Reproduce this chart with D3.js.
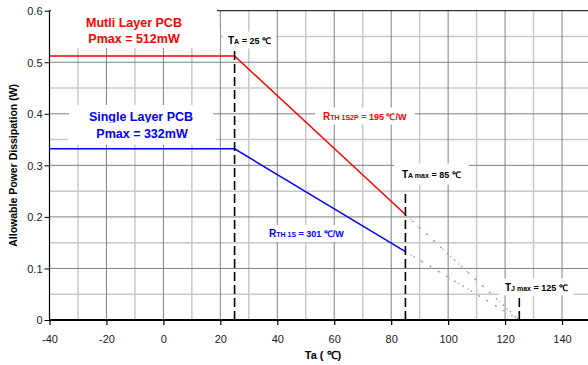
<!DOCTYPE html>
<html>
<head>
<meta charset="utf-8">
<script src="https://cdn.jsdelivr.net/npm/d3@7"></script>
<style>
  body { margin: 0; background: #fff; }
  svg { display: block; font-family: "Liberation Sans", Arial, sans-serif; }
  .tick text { font-size: 11px; fill: #222; }
</style>
</head>
<body>
<div class="chart"></div>
<script>
// Data
var tempSolid = [-40, 25, 85];
var multiPower = [0.512, 0.512, 0.2048];
var singlePower = [0.332, 0.332, 0.1328];
var tempExt = [85, 125];
var multiExt = [0.2048, 0];
var singleExt = [0.1328, 0];
var markerTemp = [25, 85, 125];
var markerTop = [0.523, 0.248, 0.046];
var xTicks = [-40, -20, 0, 20, 40, 60, 80, 100, 120, 140];
var yTicks = [0, 0.1, 0.2, 0.3, 0.4, 0.5, 0.6];

var svgWidth = 588;
var svgHeight = 365;

var svg = d3.select(".chart")
    .append("svg")
    .attr("width", svgWidth)
    .attr("height", svgHeight);

// scales (plot runs to 150 on the right, just past the picture edge)
var x = d3.scaleLinear().domain([-40, 150]).range([49.5, 590.5]);
var y = d3.scaleLinear().domain([0, 0.6]).range([320, 10.7]);

// grid
var grid = svg.append("g");
d3.range(-30, 150, 20).forEach(function(v) {
    grid.append("line").attr("x1", x(v)).attr("x2", x(v)).attr("y1", y(0)).attr("y2", y(0.6))
        .attr("stroke", "#c8c8c8").attr("stroke-width", 1.5);
});
d3.range(0.05, 0.6, 0.1).forEach(function(v) {
    grid.append("line").attr("x1", x(-40)).attr("x2", x(150)).attr("y1", y(v)).attr("y2", y(v))
        .attr("stroke", "#c8c8c8").attr("stroke-width", 1.5);
});
xTicks.slice(1).forEach(function(v) {
    grid.append("line").attr("x1", x(v)).attr("x2", x(v)).attr("y1", y(0)).attr("y2", y(0.6))
        .attr("stroke", "#808080").attr("stroke-width", 1);
});
yTicks.slice(1, -1).forEach(function(v) {
    grid.append("line").attr("x1", x(-40)).attr("x2", x(150)).attr("y1", y(v)).attr("y2", y(v))
        .attr("stroke", "#808080").attr("stroke-width", 1);
});

// top border
svg.append("line").attr("x1", x(-40)).attr("x2", x(150)).attr("y1", y(0.6)).attr("y2", y(0.6))
    .attr("stroke", "#000").attr("stroke-width", 1);

// labels with white boxes (drawn before curves, they knock out the grid)
var labels = svg.append("g");

function boxLabel(px, py, parts, color, anchor, pad) {
    var g = labels.append("g");
    var t = g.append("text")
        .attr("x", px).attr("y", py)
        .attr("text-anchor", anchor || "start")
        .attr("fill", color)
        .attr("font-weight", "bold");
    parts.forEach(function(p) {
        t.append("tspan").attr("font-size", p[1]).text(p[0]);
    });
    var bb = t.node().getBBox();
    pad = pad || [4, 2];
    g.insert("rect", "text")
        .attr("x", bb.x - pad[0]).attr("y", bb.y - pad[1])
        .attr("width", bb.width + 2 * pad[0]).attr("height", bb.height + 2 * pad[1])
        .attr("fill", "#fff");
    return g;
}

boxLabel(134, 27, [["Mutli  Layer  PCB", "12.5px"]], "#ff0000", "middle", [35, 6]);
boxLabel(134, 43, [["Pmax = 512mW", "12.5px"]], "#ff0000", "middle", [40, 2]);
boxLabel(141, 121, [["Single  Layer  PCB", "12.5px"]], "#0000ff", "middle", [20, 5]);
boxLabel(142, 137.5, [["Pmax = 332mW", "12.5px"]], "#0000ff", "middle", [28, 4]);

boxLabel(228, 43.5, [["T", "10px"], ["A", "7px"], [" = 25 ℃", "9px"]], "#000", "start", [5, 3]);
boxLabel(323, 119.5, [["R", "10px"], ["TH  1S2P", "7px"], ["  = 195 ℃/W", "9px"]], "#ff0000", "start", [8, 3]);
boxLabel(269, 237, [["R", "10px"], ["TH  1S", "7px"], [" = 301 ℃/W", "9px"]], "#0000ff", "start", [4, 3]);
boxLabel(402, 177.5, [["T", "10px"], ["A max", "7px"], ["  = 85 ℃", "9px"]], "#000", "start", [8, 5]);
boxLabel(505, 290.5, [["T", "10px"], ["J max", "7px"], [" = 125 ℃", "9px"]], "#000", "start", [6, 3]);

// extension of the curves past TA max (faint dotted)
var pts = function(xs, ys) { return xs.map(function(v, i) { return [x(v), y(ys[i])]; }); };
var line = d3.line();

[[multiExt, "#ffb8b8"], [singleExt, "#c0c0ff"]].forEach(function(s) {
    svg.append("path").attr("d", line(pts(tempExt, s[0])))
        .attr("fill", "none").attr("stroke", s[1]).attr("stroke-width", 1.5)
        .attr("stroke-dasharray", "2,9").attr("stroke-dashoffset", 5);
    svg.append("path").attr("d", line(pts(tempExt, s[0])))
        .attr("fill", "none").attr("stroke", "#8c8c8c").attr("stroke-width", 1.3)
        .attr("stroke-dasharray", "1.5,8");
});

// derating curves
svg.append("path").attr("d", line(pts(tempSolid, multiPower)))
    .attr("fill", "none").attr("stroke", "#ff0000").attr("stroke-width", 1.5);
svg.append("path").attr("d", line(pts(tempSolid, singlePower)))
    .attr("fill", "none").attr("stroke", "#0000ff").attr("stroke-width", 1.5);

// dashed temperature markers
markerTemp.forEach(function(t, i) {
    svg.append("line")
        .attr("x1", x(t)).attr("x2", x(t))
        .attr("y1", y(0)).attr("y2", y(markerTop[i]))
        .attr("stroke", "#000").attr("stroke-width", 1.6)
        .attr("stroke-dasharray", "9,4");
});

// axes
var bottomAxis = d3.axisBottom(x).tickValues(xTicks).tickSize(5).tickPadding(10)
    .tickFormat(function(d) { return String(d); });
var leftAxis = d3.axisLeft(y).tickValues(yTicks).tickSize(5).tickPadding(2)
    .tickFormat(function(d) { return d === 0 ? "0" : d3.format(".1f")(d); });

var xg = svg.append("g").attr("transform", "translate(0," + y(0) + ")").call(bottomAxis);
xg.select(".domain").remove();
xg.selectAll(".tick line").attr("stroke", "#000").attr("stroke-width", 1.2);
xg.append("line").attr("x1", x(-40)).attr("x2", x(150)).attr("stroke", "#000").attr("stroke-width", 1.8);

var yg = svg.append("g").attr("transform", "translate(" + x(-40) + ",0)").call(leftAxis);
yg.select(".domain").remove();
yg.selectAll(".tick line").attr("stroke", "#000");
yg.append("line").attr("y1", y(0)).attr("y2", y(0.6)).attr("stroke", "#000").attr("stroke-width", 1.2);
yg.selectAll(".tick text").attr("dy", "0.35em");

// axis titles
svg.append("text")
    .attr("transform", "translate(17," + ((y(0) + y(0.6)) / 2) + ") rotate(-90)")
    .attr("text-anchor", "middle")
    .attr("font-size", "10.5px")
    .attr("font-weight", "bold")
    .text("Allowable Power Dissipation (W)");

svg.append("text")
    .attr("x", 323).attr("y", 359)
    .attr("text-anchor", "middle")
    .attr("font-size", "11px")
    .attr("font-weight", "bold")
    .text("Ta ( ℃)");
</script>
</body>
</html>
